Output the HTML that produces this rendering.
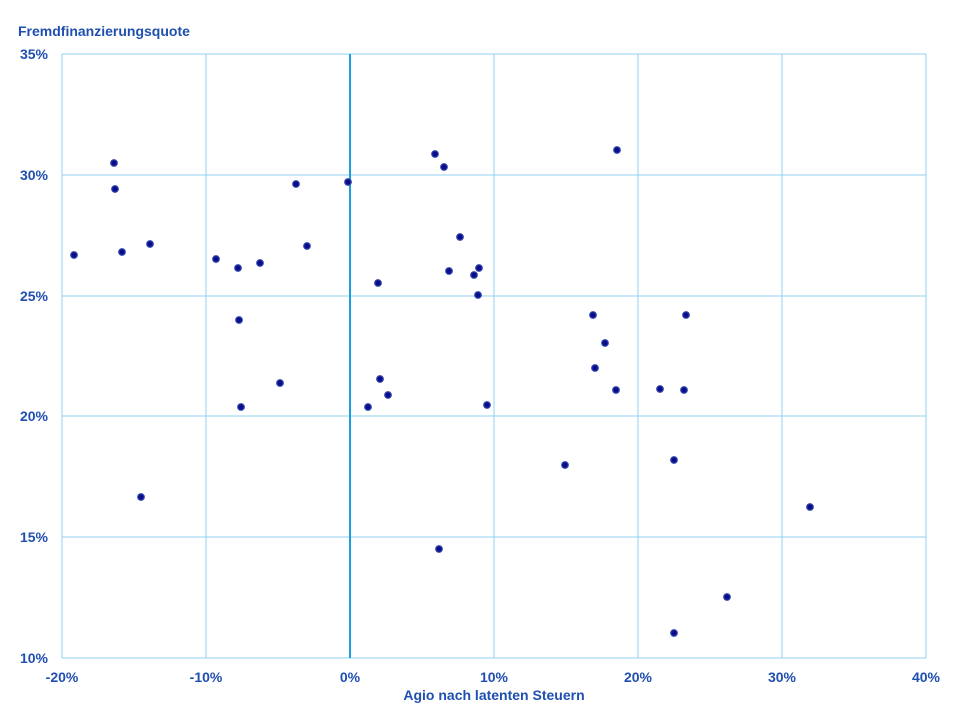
<!DOCTYPE html>
<html><head><meta charset="utf-8"><style>body{margin:0;background:#fff}svg{display:block}text{font-family:"Liberation Sans",sans-serif;font-weight:bold;fill:#1f4fb0;font-size:14px}</style></head><body>
<svg width="960" height="720" xmlns="http://www.w3.org/2000/svg">
<g stroke="#92d1f0" stroke-width="1">
<line x1="62" y1="54" x2="926" y2="54"/><line x1="62" y1="175" x2="926" y2="175"/><line x1="62" y1="296" x2="926" y2="296"/><line x1="62" y1="416" x2="926" y2="416"/><line x1="62" y1="537" x2="926" y2="537"/><line x1="62" y1="658" x2="926" y2="658"/>
<line x1="62" y1="54" x2="62" y2="658"/><line x1="206" y1="54" x2="206" y2="658"/><line x1="494" y1="54" x2="494" y2="658"/><line x1="638" y1="54" x2="638" y2="658"/><line x1="782" y1="54" x2="782" y2="658"/><line x1="926" y1="54" x2="926" y2="658"/>
</g>
<line x1="350" y1="54" x2="350" y2="658" stroke="#1a9ee0" stroke-width="2"/>
<text x="18" y="36">Fremdfinanzierungsquote</text>
<g text-anchor="end"><text x="48" y="59">35%</text><text x="48" y="180">30%</text><text x="48" y="301">25%</text><text x="48" y="421">20%</text><text x="48" y="542">15%</text><text x="48" y="663">10%</text></g>
<g text-anchor="middle"><text x="62" y="682">-20%</text><text x="206" y="682">-10%</text><text x="350" y="682">0%</text><text x="494" y="682">10%</text><text x="638" y="682">20%</text><text x="782" y="682">30%</text><text x="926" y="682">40%</text><text x="494" y="700">Agio nach latenten Steuern</text></g>
<g fill="#0c0c88" stroke="#3048b0" stroke-width="1.2">
<circle cx="74" cy="255" r="3.3"/><circle cx="114" cy="163" r="3.3"/><circle cx="115" cy="189" r="3.3"/><circle cx="122" cy="252" r="3.3"/><circle cx="150" cy="244" r="3.3"/><circle cx="141" cy="497" r="3.3"/><circle cx="216" cy="259" r="3.3"/><circle cx="238" cy="268" r="3.3"/><circle cx="260" cy="263" r="3.3"/><circle cx="239" cy="320" r="3.3"/><circle cx="241" cy="407" r="3.3"/><circle cx="280" cy="383" r="3.3"/><circle cx="296" cy="184" r="3.3"/><circle cx="307" cy="246" r="3.3"/><circle cx="348" cy="182" r="3.3"/><circle cx="378" cy="283" r="3.3"/><circle cx="380" cy="379" r="3.3"/><circle cx="388" cy="395" r="3.3"/><circle cx="368" cy="407" r="3.3"/><circle cx="435" cy="154" r="3.3"/><circle cx="444" cy="167" r="3.3"/><circle cx="460" cy="237" r="3.3"/><circle cx="449" cy="271" r="3.3"/><circle cx="474" cy="275" r="3.3"/><circle cx="479" cy="268" r="3.3"/><circle cx="478" cy="295" r="3.3"/><circle cx="487" cy="405" r="3.3"/><circle cx="439" cy="549" r="3.3"/><circle cx="565" cy="465" r="3.3"/><circle cx="593" cy="315" r="3.3"/><circle cx="605" cy="343" r="3.3"/><circle cx="595" cy="368" r="3.3"/><circle cx="616" cy="390" r="3.3"/><circle cx="617" cy="150" r="3.3"/><circle cx="660" cy="389" r="3.3"/><circle cx="684" cy="390" r="3.3"/><circle cx="686" cy="315" r="3.3"/><circle cx="674" cy="460" r="3.3"/><circle cx="674" cy="633" r="3.3"/><circle cx="727" cy="597" r="3.3"/><circle cx="810" cy="507" r="3.3"/>
</g>
</svg>
</body></html>
